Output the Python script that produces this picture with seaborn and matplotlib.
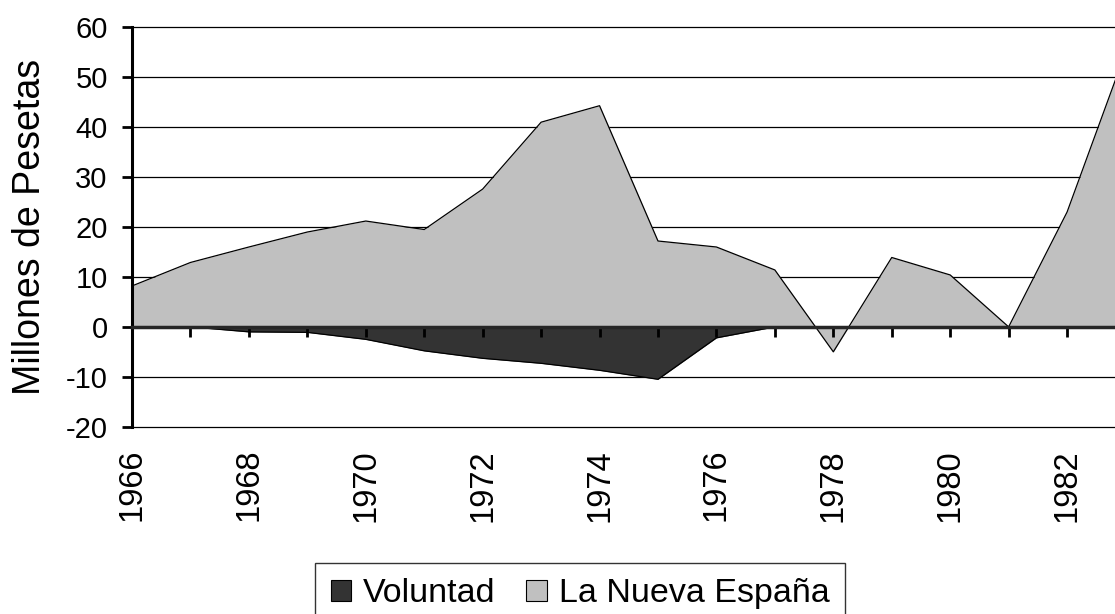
import pandas as pd
import numpy as np
import matplotlib
matplotlib.use("Agg")
import matplotlib.pyplot as plt
import seaborn as sns
from matplotlib.patches import Patch

years = [1966, 1967, 1968, 1969, 1970, 1971, 1972, 1973, 1974,
         1975, 1976, 1977, 1978, 1979, 1980, 1981, 1982, 1983]
voluntad = [0, 0, -1.0, -1.1, -2.5, -4.8, -6.3, -7.3, -8.7,
            -10.5, -2.2, 0, 0, 0, 0, 0, 0, 0]
nueva_espana = [8.2, 12.9, 16.0, 19.0, 21.2, 19.5, 27.6, 41.0, 44.3,
                17.2, 16.0, 11.4, -5.0, 13.9, 10.4, 0, 23.0, 55.0]

dataset = pd.DataFrame({"Year": years, "Voluntad": voluntad,
                        "La Nueva España": nueva_espana})

sns.set_style("white")
plt.rcParams["font.family"] = ["Liberation Sans", "DejaVu Sans"]
plt.rcParams["axes.unicode_minus"] = False
plt.rcParams["text.color"] = "black"
plt.rcParams["axes.labelcolor"] = "black"
plt.rcParams["xtick.color"] = "black"
plt.rcParams["ytick.color"] = "black"

fig = plt.figure(figsize=(11.15, 6.14), dpi=100)
ax = fig.add_axes([0.1184, 0.305, 0.8816, 0.6505])

gray = "#c0c0c0"
dark = "#333333"

ax.fill_between(dataset["Year"], 0, dataset["La Nueva España"], color=gray, lw=0, zorder=2)
sns.lineplot(data=dataset, x="Year", y="La Nueva España", color="black", lw=0.9, ax=ax, zorder=3)
ax.fill_between(dataset["Year"], 0, dataset["Voluntad"], color=dark, lw=0, zorder=4)
sns.lineplot(data=dataset, x="Year", y="Voluntad", color="black", lw=0.9, ax=ax, zorder=5)

ax.set_xlim(1966, 1982.82)
ax.set_ylim(-20, 60)
ax.set_yticks(range(-20, 61, 10))
ax.yaxis.grid(True, color="black", lw=0.9)
for gl in ax.get_ygridlines():
    gl.set_clip_on(False)
ax.set_axisbelow(True)

for s in ["top", "right", "bottom"]:
    ax.spines[s].set_visible(False)
ax.spines["left"].set_linewidth(2.2)
ax.spines["left"].set_color("black")
ax.spines["left"].set_zorder(6)

ax.tick_params(axis="y", direction="out", length=7, width=2, color="black",
               labelsize=21, pad=10.5, left=True)
ax.set_xticks(range(1966, 1983, 2))
ax.set_xticklabels([str(y) for y in range(1966, 1983, 2)], rotation=90)
ax.tick_params(axis="x", length=0, labelsize=23.5, pad=16)
ax.set_xlabel("")
ax.set_ylabel("Millones de Pesetas", fontsize=27, labelpad=13)

# category axis crossing at zero
sec = ax.secondary_xaxis(0.25)
sec.set_xticks(range(1966, 1983))
sec.set_xticklabels([])
sec.spines["bottom"].set_linewidth(2.5)
sec.tick_params(axis="x", direction="out", length=7, width=2, color="black")
sec.set_zorder(7)

handles = [Patch(facecolor=dark, edgecolor="black", lw=0.8, label="Voluntad"),
           Patch(facecolor=gray, edgecolor="black", lw=0.8, label="La Nueva España")]
leg = fig.legend(handles=handles, loc="upper center", ncol=2,
                 bbox_to_anchor=(580 / 1115, 1 - 563 / 614), fontsize=24.5,
                 frameon=True, fancybox=False, edgecolor="black",
                 handlelength=0.6, handleheight=0.6, handletextpad=0.35,
                 columnspacing=0.9, borderpad=0.45, borderaxespad=0)
leg.get_frame().set_linewidth(1.0)

fig.savefig("out.png", dpi=100)
